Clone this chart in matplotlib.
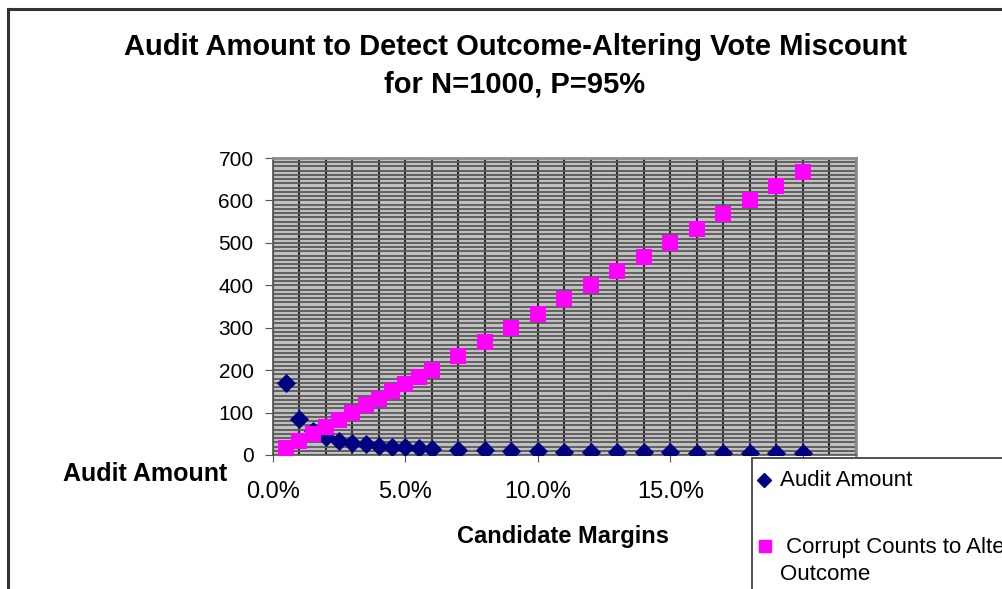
import matplotlib
matplotlib.use("Agg")
import matplotlib.pyplot as plt
from matplotlib.ticker import MultipleLocator, FixedLocator, FixedFormatter
from matplotlib.lines import Line2D
from matplotlib.patches import Rectangle

plt.rcParams['font.family'] = ['Liberation Sans', 'DejaVu Sans']

# Data (margins in percent)
margins = [0.5, 1.0, 1.5, 2.0, 2.5, 3.0, 3.5, 4.0, 4.5, 5.0, 5.5, 6.0,
           7, 8, 9, 10, 11, 12, 13, 14, 15, 16, 17, 18, 19, 20]
audit_amount = [170, 86, 57, 43, 34, 29, 25, 21, 19, 18, 16, 14,
                12, 11, 10, 9, 8, 7, 7, 6, 6, 5, 5, 5, 5, 4]
corrupt_counts = [17, 33, 50, 67, 83, 100, 117, 133, 150, 167, 183, 200,
                  233, 267, 300, 333, 367, 400, 433, 467, 500, 533, 567, 600, 633, 667]

# x tick positions and labels (the 20.0% label is hidden behind the legend in the original)
x_ticks = [0, 5, 10, 15, 20]
x_tick_labels = ["0.0%", "5.0%", "10.0%", "15.0%", ""]

title = "Audit Amount to Detect Outcome-Altering Vote Miscount\nfor N=1000, P=95%"
xlabel = "Candidate Margins"
ylabel = "Audit Amount"
series_names = ["Audit Amount", " Corrupt Counts to Alter", "Outcome"]

W, H = 1003, 589
fig = plt.figure(figsize=(W / 100, H / 100), dpi=100)


def fx(px):
    return px / W


def fy(py):
    return 1 - py / H


# outer chart border (left and top visible)
fig.add_artist(Line2D([fx(8), fx(8)], [fy(9), fy(600)], transform=fig.transFigure,
                      color='#333333', linewidth=2.2, solid_capstyle='projecting'))
fig.add_artist(Line2D([fx(8), fx(1010)], [fy(9), fy(9)], transform=fig.transFigure,
                      color='#333333', linewidth=2.2, solid_capstyle='projecting'))

ax = fig.add_axes([fx(273), fy(455), (856 - 273) / W, (455 - 158) / H])
ax.set_facecolor('#c0c0c0')
ax.set_xlim(0, 22)
ax.set_ylim(0, 700)

ax.xaxis.set_major_locator(FixedLocator(x_ticks))
ax.xaxis.set_major_formatter(FixedFormatter(x_tick_labels))
ax.xaxis.set_minor_locator(MultipleLocator(1))
ax.yaxis.set_major_locator(MultipleLocator(100))
ax.yaxis.set_minor_locator(MultipleLocator(10))

ax.grid(True, which='minor', axis='y', color='#5a5a5a', linewidth=1.3)
ax.grid(True, which='major', axis='y', color='#5a5a5a', linewidth=1.3)
ax.grid(True, which='both', axis='x', color='#2a2a2a', linewidth=1.5)
ax.set_axisbelow(True)

for s in ['top', 'right']:
    ax.spines[s].set_color('#8c8c8c')
    ax.spines[s].set_linewidth(2)
for s in ['left', 'bottom']:
    ax.spines[s].set_color('#555555')
    ax.spines[s].set_linewidth(1.2)

ax.tick_params(axis='both', which='minor', length=0)
ax.tick_params(axis='y', which='major', direction='out', length=6, color='#555555',
               labelsize=15, pad=8)
ax.tick_params(axis='x', which='major', direction='inout', length=10, color='#555555',
               labelsize=17, pad=14)

ax.scatter(margins, audit_amount, marker='D', s=95, color='#000080', zorder=3,
           linewidths=0)
ax.scatter(margins, corrupt_counts, marker='s', s=120, color='#ff00ff', zorder=3,
           linewidths=0)

fig.text(fx(515), fy(66), title, ha='center', va='center', fontsize=21,
         fontweight='bold', linespacing=1.45)
fig.text(fx(145), fy(474), ylabel, ha='center', va='center', fontsize=18,
         fontweight='bold')
fig.text(fx(563), fy(537), xlabel, ha='center', va='center', fontsize=17,
         fontweight='bold')

# legend box (extends past the figure edge, as in the original)
fig.add_artist(Rectangle((fx(752), fy(610)), fx(1020) - fx(752), fy(458) - fy(610),
                         transform=fig.transFigure, facecolor='white',
                         edgecolor='#333333', linewidth=1.2, zorder=5))
fig.add_artist(Line2D([fx(764)], [fy(480)], transform=fig.transFigure, marker='D',
                      markersize=7, color='#000080', linestyle='none', zorder=6))
fig.add_artist(Line2D([fx(765)], [fy(546)], transform=fig.transFigure, marker='s',
                      markersize=8, color='#ff00ff', linestyle='none', zorder=6))
fig.text(fx(780), fy(481), series_names[0], ha='left', va='center', fontsize=16, zorder=6)
fig.text(fx(780), fy(547), series_names[1], ha='left', va='center', fontsize=16, zorder=6)
fig.text(fx(780), fy(574), series_names[2], ha='left', va='center', fontsize=16, zorder=6)

fig.savefig('out.png', dpi=100)
